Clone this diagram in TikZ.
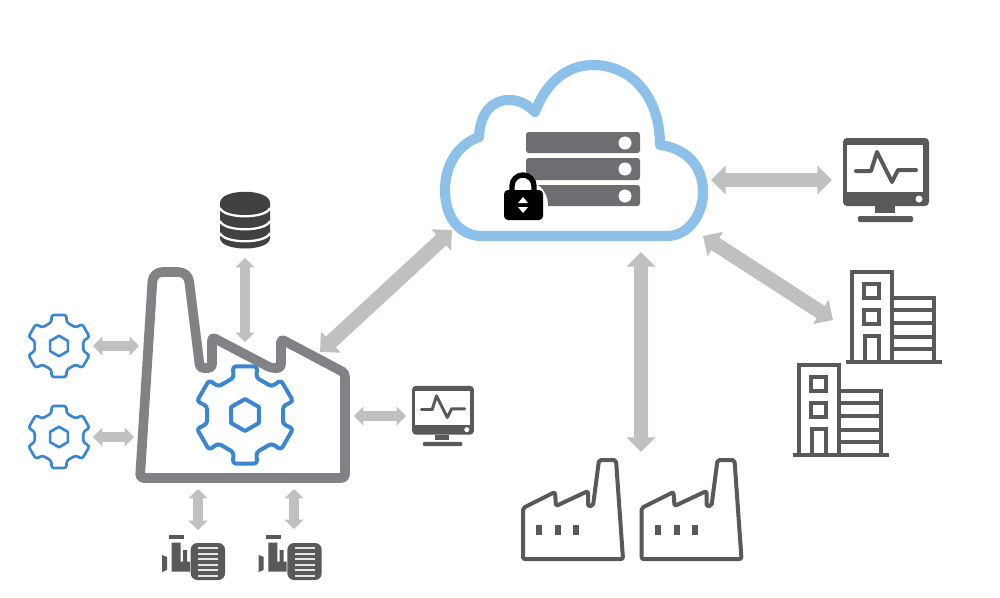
\documentclass[tikz,border=0pt]{standalone}
\usetikzlibrary{arrows.meta}
\definecolor{cloudblue}{HTML}{8DC1EA}
\definecolor{gearblue}{HTML}{3A86D3}
\definecolor{arrowgray}{HTML}{BFC1BF}
\definecolor{factgray}{HTML}{808285}
\definecolor{srvgray}{HTML}{6D6E71}
\definecolor{icongray}{HTML}{58595B}
\definecolor{dbdark}{HTML}{414042}
\tikzset{
  x=0.75pt,y=-0.75pt,
  bigarr/.style={draw=arrowgray,line width=11pt,{Triangle[length=11pt,width=21pt]}-{Triangle[length=11pt,width=21pt]}},
  smallarr/.style={draw=arrowgray,line width=8pt,{Triangle[length=7pt,width=14pt]}-{Triangle[length=7pt,width=14pt]}},
  thinarr/.style={draw=arrowgray,line width=7pt,{Triangle[length=7pt,width=14pt]}-{Triangle[length=7pt,width=14pt]}},
  anchorpt/.style={inner sep=0pt,minimum size=0pt},
  pics/gear/.style={code={
    \draw[gearblue,line width=#1,rounded corners=2.2pt,line join=round]
      (13:39) \foreach \a in {30,90,...,330} { -- (\a-14:50) -- (\a+14:50) -- (\a+17:39) -- (\a+43:39) } -- cycle;
    \draw[gearblue,line width=#1,line join=round]
      (90:16) -- (150:16) -- (210:16) -- (270:16) -- (330:16) -- (30:16) -- cycle;
  }},
  pics/monitor/.style={code={
    \fill[icongray,rounded corners=3pt] (-43,-42) rectangle (43,26);
    \fill[white] (-39,-35) rectangle (37,12);
    \fill[white] (33,19) circle (3.5);
    \fill[icongray] (-11,26) rectangle (9,33);
    \fill[icongray,rounded corners=1pt] (-28,36) rectangle (27,42);
    \draw[icongray,line width=#1,line join=round,line cap=round]
      (-30,-9) -- (-15,-9) -- (-9,-28) -- (6,2) -- (12,-10) -- (30,-10);
  }},
  pics/motor/.style={code={
    \fill[icongray] (-7,20) -- (-2,22) -- (-2,35) -- (-7,37) -- cycle;
    \fill[icongray] (0,0) rectangle (15,4);
    \fill[icongray] (2.7,7.7) -- (11.7,7.7) -- (11.7,26.7) -- (14,26.7) -- (14,15) -- (18,15) -- (18,26.7) -- (21,26.7) -- (21,36.7) -- (2.7,36.7) -- cycle;
    \fill[icongray,rounded corners=5pt] (21.7,8) rectangle (56,45);
    \foreach \yy in {12,17.5,23,28.5,34,39.5}
      \fill[white!85!icongray] (29,\yy) rectangle (49,\yy+2);
  }},
  pics/smallfactory/.style={code={
    \draw[icongray,line width=3pt,rounded corners=1.5pt,line join=round]
      (0,51) -- (100,51) -- (93,-48) -- (76,-48) -- (70,-2) -- (65,-2) -- (65,-17) -- (33,-2) -- (32,-16) -- (0,0) -- cycle;
    \foreach \xx in {16,35,53}
      \fill[icongray] (\xx-3,17) rectangle (\xx+3,27);
  }},
  pics/building/.style={code={
    \begin{scope}[icongray,line width=2.8pt]
      \draw (0,90) -- (0,0) -- (40,0) -- (40,90);
      \draw (40,26) -- (82,26) -- (82,90);
      \draw (-6,90) -- (90,90);
      \draw (12,12) rectangle (27,26);
      \draw (12,38) rectangle (27,52);
      \draw (13,90) -- (13,64) -- (27,64) -- (27,90);
      \foreach \yy in {38,51,65,77} \draw (40,\yy) -- (82,\yy);
    \end{scope}
  }}
}
\begin{document}
\begin{tikzpicture}
\useasboundingbox (0,0) rectangle (1000,597);
\fill[white] (0,0) rectangle (1000,597);

% cloud
\node[anchorpt] (cloud) at (575,160) {};
\draw[cloudblue,line width=7.6pt,line join=round]
  (482,236) -- (667,236)
  .. controls (688,236) and (703,215) .. (703,192)
  .. controls (703,165) and (685,148) .. (660,145)
  .. controls (660,95) and (630,65) .. (593,65)
  .. controls (565,65) and (545,85) .. (535,112)
  .. controls (528,105) and (520,100) .. (509,100)
  .. controls (493,100) and (480,112) .. (479,137)
  .. controls (457,145) and (445,166) .. (445,190)
  .. controls (445,218) and (460,236) .. (482,236) -- cycle;

% servers
\foreach \yt/\yb/\yc in {132/153/143,158/180/169,185/206/196}{
  \fill[srvgray,rounded corners=2pt] (526,\yt) rectangle (640,\yb);
  \fill[white] (625,\yc) circle (6.5);
}
% lock
\fill[white] (523,205) circle (25);
\draw[black,line width=4pt] (512,192) -- (512,186) arc[start angle=180,end angle=360,x radius=11,y radius=11] -- (534,192);
\node[anchorpt] (lock) at (523,205) {};
\fill[black,rounded corners=3pt] (504,190) rectangle (543,220);
\fill[white] (523,197) -- (528,203) -- (518,203) -- cycle;
\fill[white] (523,213) -- (528,207) -- (518,207) -- cycle;

% database
\node[anchorpt] (db) at (245,220) {};
\fill[dbdark] (220,203) -- (220,238) .. controls (220,252) and (270,252) .. (270,238) -- (270,203) .. controls (270,188) and (220,188) .. (220,203) -- cycle;
\foreach \yy in {208,221,233}
  \draw[white,line width=1.7pt] (220,\yy) .. controls (224,\yy+11) and (266,\yy+11) .. (270,\yy);

% big factory
\node[anchorpt] (factory) at (245,400) {};
\draw[factgray,line width=7.2pt,rounded corners=2.5pt,line join=round]
  (140,478) -- (345,478) -- (345,373) -- (281,339) -- (281,368) -- (271,368) -- (212,337) -- (212,368) -- (200,368) [rounded corners=7pt] -- (188,272) -- (153,272) [rounded corners=2.5pt] -- cycle;
\pic at (245,415) {gear=3pt};

% small gears
\node[anchorpt] (gearA) at (59,346) {};
\node[anchorpt] (gearB) at (59,437) {};
\pic[scale=.64] at (gearA) {gear=2pt};
\pic[scale=.64] at (gearB) {gear=2pt};

% monitors
\node[anchorpt] (monBig) at (886,180) {};
\node[anchorpt] (monSmall) at (443,416) {};
\pic at (monBig) {monitor=3pt};
\pic[scale=.72] at (monSmall) {monitor=2.2pt};

% motors
\node[anchorpt] (motorA) at (169,535) {};
\node[anchorpt] (motorB) at (265.7,535) {};
\pic at (motorA) {motor};
\pic at (motorB) {motor};

% small factories
\node[anchorpt] (sfA) at (523,508) {};
\node[anchorpt] (sfB) at (641.5,508) {};
\pic at (sfA) {smallfactory};
\pic at (sfB) {smallfactory};

% buildings
\node[anchorpt] (bA) at (852,272) {};
\node[anchorpt] (bB) at (798.7,365.3) {};
\pic at (bA) {building};
\pic at (bB) {building};

% connector ends
\coordinate (e1a) at (245,258); \coordinate (e1b) at (245,342);
\coordinate (e2a) at (320,352); \coordinate (e2b) at (452,230);
\coordinate (e3a) at (93,346);  \coordinate (e3b) at (139,346);
\coordinate (e4a) at (93,437);  \coordinate (e4b) at (134,437);
\coordinate (e5a) at (354,416); \coordinate (e5b) at (406,416);
\coordinate (e6a) at (198,489); \coordinate (e6b) at (198,530);
\coordinate (e7a) at (294,489); \coordinate (e7b) at (294,529);
\coordinate (e8a) at (711,180); \coordinate (e8b) at (832,180);
\coordinate (e9a) at (703,236); \coordinate (e9b) at (833,320);
\coordinate (e10a) at (641,252); \coordinate (e10b) at (641,452);

\draw[thinarr] (e1a) -- (e1b);
\draw[bigarr] (e2a) -- (e2b);
\draw[smallarr] (e3a) -- (e3b);
\draw[smallarr] (e4a) -- (e4b);
\draw[smallarr] (e5a) -- (e5b);
\draw[smallarr] (e6a) -- (e6b);
\draw[smallarr] (e7a) -- (e7b);
\draw[bigarr] (e8a) -- (e8b);
\draw[bigarr] (e9a) -- (e9b);
\draw[bigarr] (e10a) -- (e10b);
\end{tikzpicture}
\end{document}
